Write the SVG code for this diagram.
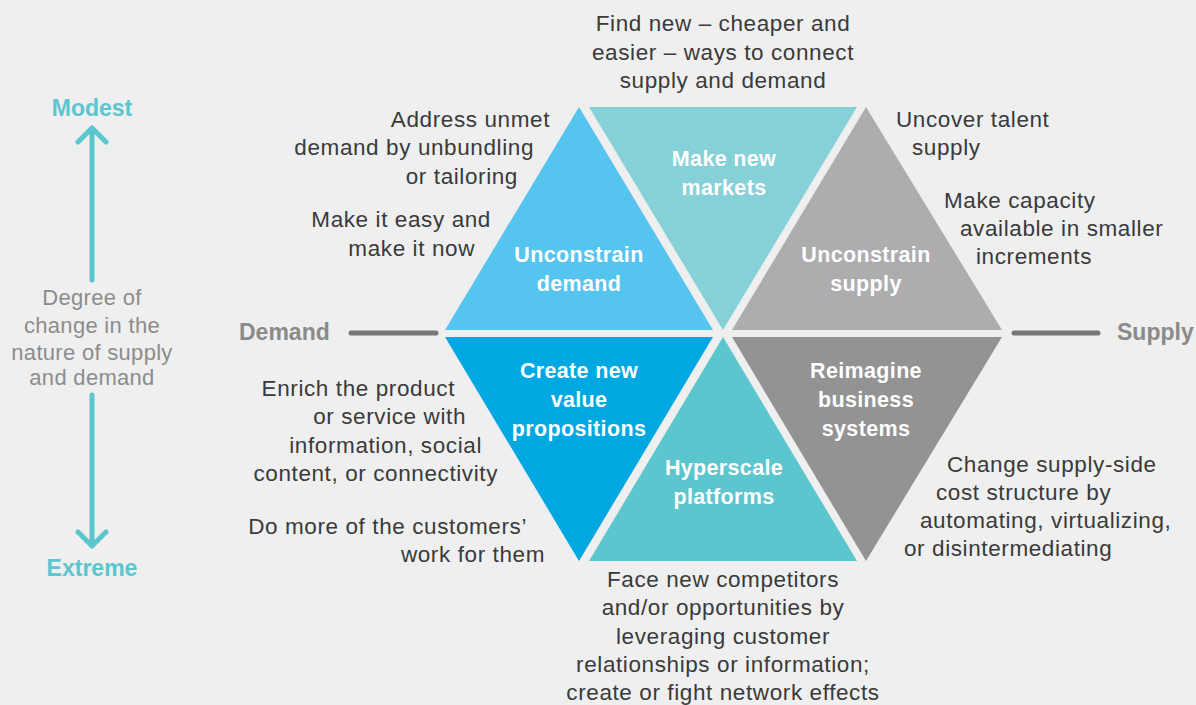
<svg xmlns="http://www.w3.org/2000/svg" width="1196" height="705" viewBox="0 0 1196 705">
<style>
.t{font-family:"Liberation Sans",Arial,sans-serif;font-size:22.5px;letter-spacing:0.6px;fill:#3a3a3a}
.n{font-family:"Liberation Sans",Arial,sans-serif;font-size:21.5px;letter-spacing:0.35px;font-weight:bold;fill:#ffffff;text-anchor:middle}
.g{font-family:"Liberation Sans",Arial,sans-serif;font-size:22px;letter-spacing:0.3px;fill:#8c8c8c;text-anchor:middle}
.h{font-family:"Liberation Sans",Arial,sans-serif;font-size:23px;font-weight:bold}
.e{text-anchor:end}
.m{text-anchor:middle}
.ax{stroke:#5bc6ce;stroke-width:5;fill:none;stroke-linecap:round;stroke-linejoin:round}
.dl{stroke:#777777;stroke-width:5;stroke-linecap:round}
</style>
<rect width="1196" height="705" fill="#efefef"/>

<g id="axis">
<path class="ax" d="M92,128 V280 M78,142 L92,128 L106,142"/>
<path class="ax" d="M92,395 V546 M78,532 L92,546 L106,532"/>
<text class="h m" x="92" y="116" fill="#5bc6ce">Modest</text>
<text class="h m" x="92" y="576" fill="#5bc6ce">Extreme</text>
<text class="g" x="92" y="305">Degree of</text>
<text class="g" x="92" y="333">change in the</text>
<text class="g" x="92" y="360">nature of supply</text>
<text class="g" x="92" y="385">and demand</text>
</g>

<g id="connectors">
<line class="dl" x1="351" y1="333" x2="436" y2="333"/>
<line class="dl" x1="1014" y1="333" x2="1098" y2="333"/>
</g>
<g id="demand-label"><text class="h" x="239" y="340" fill="#8a8a8a">Demand</text></g>
<g id="supply-label"><text class="h" x="1117" y="340" fill="#8a8a8a">Supply</text></g>

<g id="unconstrain-demand">
<polygon points="579,107 445,330 713,330" fill="#55c5f0"/>
<text class="n" x="579" y="262">Unconstrain</text>
<text class="n" x="579" y="291">demand</text>
</g>
<g id="make-new-markets">
<polygon points="589,107 857,107 723,330" fill="#86d1d8"/>
<text class="n" x="724" y="166">Make new</text>
<text class="n" x="724" y="195">markets</text>
</g>
<g id="unconstrain-supply">
<polygon points="866,107 732,330 1002,330" fill="#adadaf"/>
<text class="n" x="866" y="262">Unconstrain</text>
<text class="n" x="866" y="291">supply</text>
</g>
<g id="create-new-value">
<polygon points="445,337 713,337 579,561" fill="#00a8e2"/>
<text class="n" x="579" y="378">Create new</text>
<text class="n" x="579" y="407">value</text>
<text class="n" x="579" y="436">propositions</text>
</g>
<g id="hyperscale-platforms">
<polygon points="723,337 589,561 857,561" fill="#5bc6ce"/>
<text class="n" x="724" y="475">Hyperscale</text>
<text class="n" x="724" y="504">platforms</text>
</g>
<g id="reimagine-business">
<polygon points="732,337 1002,337 866,561" fill="#939393"/>
<text class="n" x="866" y="378">Reimagine</text>
<text class="n" x="866" y="407">business</text>
<text class="n" x="866" y="436">systems</text>
</g>

<g id="notes">
<text class="t m" x="723" y="31">Find new – cheaper and</text>
<text class="t m" x="723" y="60">easier – ways to connect</text>
<text class="t m" x="723" y="88">supply and demand</text>

<text class="t e" x="550" y="127">Address unmet</text>
<text class="t e" x="534" y="155">demand by unbundling</text>
<text class="t e" x="518" y="184">or tailoring</text>
<text class="t e" x="491" y="227">Make it easy and</text>
<text class="t e" x="475" y="256">make it now</text>

<text class="t" x="896" y="127">Uncover talent</text>
<text class="t" x="912" y="155">supply</text>
<text class="t" x="944" y="208">Make capacity</text>
<text class="t" x="960" y="236">available in smaller</text>
<text class="t" x="976" y="264">increments</text>

<text class="t e" x="455" y="396">Enrich the product</text>
<text class="t e" x="466" y="424">or service with</text>
<text class="t e" x="482" y="453">information, social</text>
<text class="t e" x="498" y="481">content, or connectivity</text>
<text class="t e" x="527" y="534">Do more of the customers’</text>
<text class="t e" x="545" y="562">work for them</text>

<text class="t" x="947" y="472">Change supply-side</text>
<text class="t" x="936" y="500">cost structure by</text>
<text class="t" x="920" y="528">automating, virtualizing,</text>
<text class="t" x="904" y="556">or disintermediating</text>

<text class="t m" x="723" y="587">Face new competitors</text>
<text class="t m" x="723" y="615">and/or opportunities by</text>
<text class="t m" x="723" y="644">leveraging customer</text>
<text class="t m" x="723" y="672">relationships or information;</text>
<text class="t m" x="723" y="700">create or fight network effects</text>
</g>
</svg>
